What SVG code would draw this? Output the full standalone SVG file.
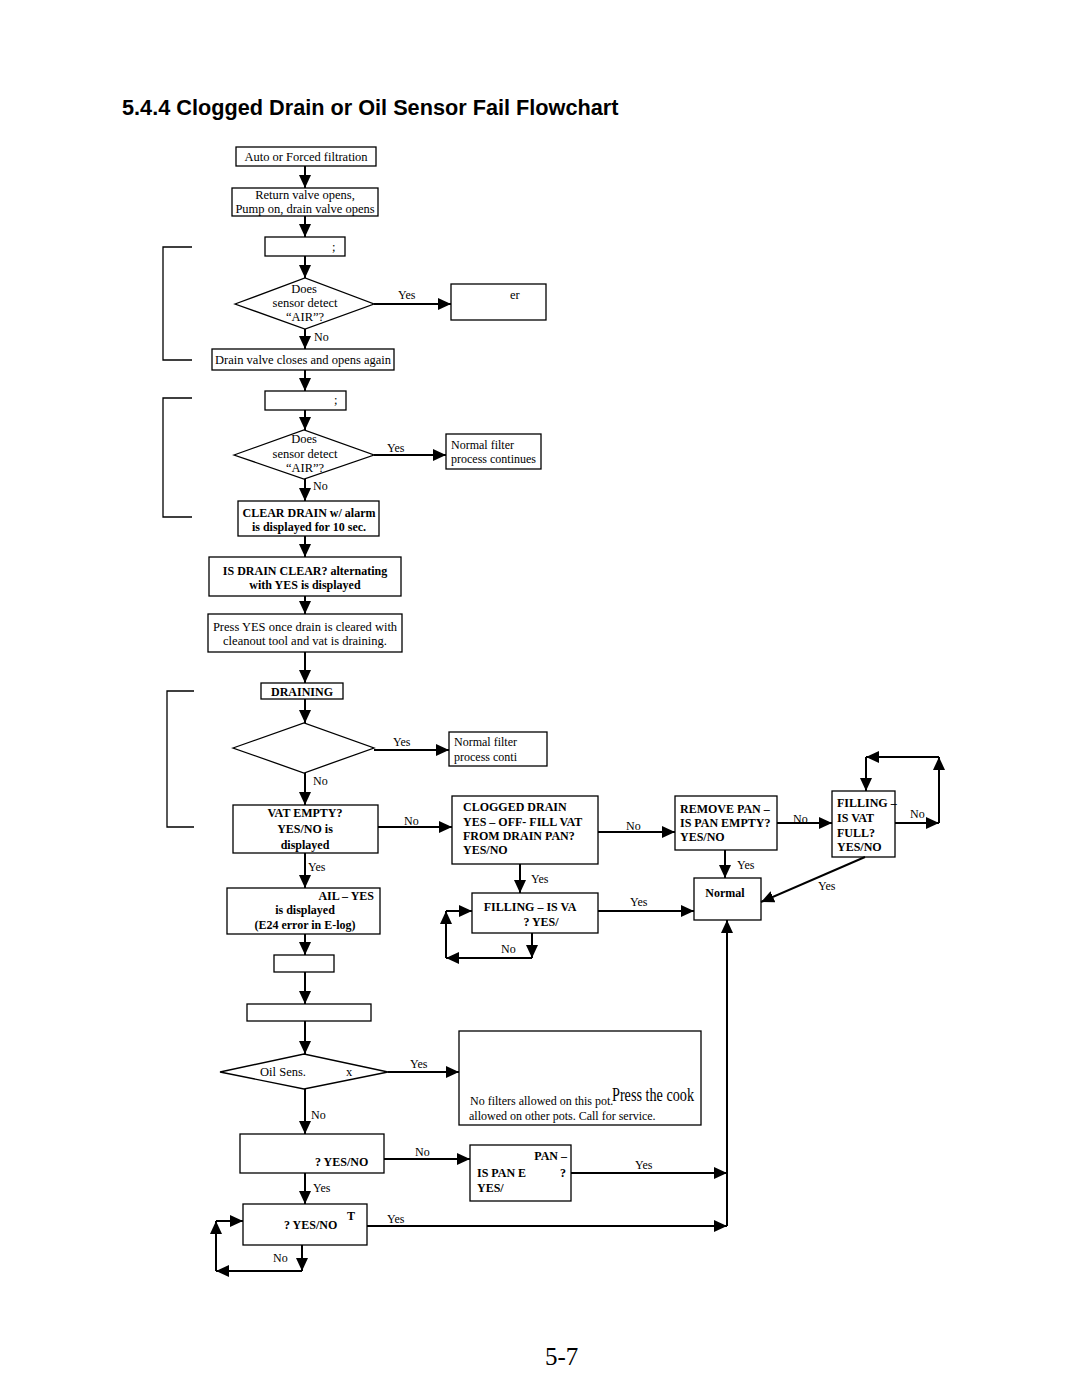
<svg xmlns="http://www.w3.org/2000/svg" width="1080" height="1397" viewBox="0 0 1080 1397">
<style>
.box{fill:#fff;stroke:#000;stroke-width:1.3}
.c{fill:none;stroke:#000;stroke-width:2}
.br{fill:none;stroke:#000;stroke-width:1.3}
text{font-family:"Liberation Serif","Times New Roman",serif;fill:#000}
.t{font-size:12.5px}
.tm{text-anchor:middle}
.b{font-size:12px;font-weight:bold}
.l{font-size:12px}
.title{font-family:"Liberation Sans",Arial,sans-serif;font-size:21.7px;font-weight:bold}
</style>
<defs>
<marker id="ah" viewBox="0 0 13 12" refX="13" refY="6" markerWidth="13" markerHeight="12" markerUnits="userSpaceOnUse" orient="auto"><path d="M0,0 L13,6 L0,12 z" fill="#000"/></marker>
</defs>
<rect width="1080" height="1397" fill="#fff"/>
<text class="title" x="122" y="115">5.4.4 Clogged Drain or Oil Sensor Fail Flowchart</text>

<g id="brackets">
<path class="br" d="M192,247 H163 V360 H192"/>
<path class="br" d="M192,398 H163 V517 H192"/>
<path class="br" d="M194,691 H167 V827 H194"/>
</g>

<g id="n1"><rect class="box" x="236" y="147" width="140" height="19"/><text class="t tm" x="306" y="161">Auto or Forced filtration</text></g>
<g id="n2"><rect class="box" x="232" y="188" width="146" height="28"/><text class="t tm" x="305" y="199">Return valve opens,</text><text class="t tm" x="305" y="213">Pump on, drain valve opens</text></g>
<g id="n3"><rect class="box" x="265" y="237" width="80" height="19"/><text class="t" x="332" y="251">;</text></g>
<g id="n4"><polygon class="box" points="235,304 305,278 374,304 305,329"/><text class="t tm" x="304" y="293">Does</text><text class="t tm" x="305" y="307">sensor detect</text><text class="t tm" x="305" y="321">“AIR”?</text></g>
<g id="n5"><rect class="box" x="451" y="284" width="95" height="36"/><text class="t" x="510" y="299">er</text></g>
<g id="n6"><rect class="box" x="212" y="349" width="182" height="21"/><text class="t tm" x="303" y="364">Drain valve closes and opens again</text></g>
<g id="n7"><rect class="box" x="265" y="391" width="81" height="19"/><text class="t" x="334" y="404">;</text></g>
<g id="n8"><polygon class="box" points="234,455 304,430 374,455 304,479"/><text class="t tm" x="304" y="443">Does</text><text class="t tm" x="305" y="458">sensor detect</text><text class="t tm" x="305" y="472">“AIR”?</text></g>
<g id="n9"><rect class="box" x="446" y="434" width="95" height="35"/><text class="l" x="451" y="449">Normal filter</text><text class="l" x="451" y="463">process continues</text></g>
<g id="n10"><rect class="box" x="238" y="501" width="141" height="35"/><text class="b tm" x="309" y="517">CLEAR DRAIN w/ alarm</text><text class="b tm" x="309" y="531">is displayed for 10 sec.</text></g>
<g id="n11"><rect class="box" x="209" y="557" width="192" height="39"/><text class="b tm" x="305" y="575">IS DRAIN CLEAR? alternating</text><text class="b tm" x="305" y="589">with YES is displayed</text></g>
<g id="n12"><rect class="box" x="208" y="614" width="194" height="38"/><text class="t tm" x="305" y="631">Press YES once drain is cleared with</text><text class="t tm" x="305" y="645">cleanout tool and vat is draining.</text></g>
<g id="n13"><rect class="box" x="261" y="683" width="82" height="16"/><text class="b tm" x="302" y="696">DRAINING</text></g>
<g id="n14"><polygon class="box" points="233,748 304,723 374,748 304,773"/></g>
<g id="n15"><rect class="box" x="449" y="732" width="98" height="34"/><text class="l" x="454" y="746">Normal filter</text><text class="l" x="454" y="761">process conti</text></g>
<g id="n16"><rect class="box" x="233" y="805" width="145" height="48"/><text class="b tm" x="305" y="817">VAT EMPTY?</text><text class="b tm" x="305" y="833">YES/NO is</text><text class="b tm" x="305" y="849">displayed</text></g>
<g id="n17"><rect class="box" x="227" y="888" width="153" height="46"/><text class="b" x="374" y="900" text-anchor="end">AIL – YES</text><text class="b tm" x="305" y="914">is displayed</text><text class="b tm" x="305" y="929">(E24 error in E-log)</text></g>
<g id="n18"><rect class="box" x="452" y="796" width="146" height="68"/><text class="b" x="463" y="811">CLOGGED DRAIN</text><text class="b" x="463" y="826">YES – OFF- FILL VAT</text><text class="b" x="463" y="840">FROM DRAIN PAN?</text><text class="b" x="463" y="854">YES/NO</text></g>
<g id="n19"><rect class="box" x="675" y="796" width="102" height="54"/><text class="b" x="680" y="813">REMOVE PAN –</text><text class="b" x="680" y="827">IS PAN EMPTY?</text><text class="b" x="680" y="841">YES/NO</text></g>
<g id="n20"><rect class="box" x="832" y="791" width="63" height="66"/><text class="b" x="837" y="807" font-size="11.5">FILLING –</text><text class="b" x="837" y="822">IS VAT</text><text class="b" x="837" y="837">FULL?</text><text class="b" x="837" y="851">YES/NO</text></g>
<g id="n21"><rect class="box" x="694" y="878" width="67" height="42"/><text class="b tm" x="725" y="897">Normal</text></g>
<g id="n22"><rect class="box" x="472" y="893" width="126" height="40"/><text class="b tm" x="530" y="911">FILLING – IS VA</text><text class="b tm" x="541" y="926">? YES/</text></g>
<g id="n23"><rect class="box" x="274" y="955" width="60" height="17"/></g>
<g id="n24"><rect class="box" x="247" y="1004" width="124" height="17"/></g>
<g id="n25"><polygon class="box" points="220,1072 304,1054 388,1072 304,1089"/><text class="t tm" x="283" y="1076">Oil Sens.</text><text class="t" x="346" y="1076">x</text></g>
<g id="n26"><rect class="box" x="459" y="1031" width="242" height="94"/><text x="612" y="1101" font-size="19" font-family="Liberation Sans,Arial,sans-serif" textLength="82" lengthAdjust="spacingAndGlyphs">Press the cook</text><text class="l" x="470" y="1105">No filters allowed on this pot.</text><text class="l" x="469" y="1120">allowed on other pots. Call for service.</text></g>
<g id="n27"><rect class="box" x="240" y="1134" width="144" height="39"/><text class="b" x="315" y="1166">? YES/NO</text></g>
<g id="n28"><rect class="box" x="470" y="1145" width="101" height="56"/><text class="b" x="567" y="1160" text-anchor="end">PAN –</text><text class="b" x="477" y="1177">IS PAN E</text><text class="b" x="560" y="1177">?</text><text class="b" x="477" y="1192">YES/</text></g>
<g id="n29"><rect class="box" x="243" y="1204" width="124" height="41"/><text class="b" x="347" y="1220">T</text><text class="b" x="284" y="1229">? YES/NO</text></g>

<g id="connectors">
<path class="c" marker-end="url(#ah)" d="M305,166 V188"/>
<path class="c" marker-end="url(#ah)" d="M305,216 V237"/>
<path class="c" marker-end="url(#ah)" d="M305,256 V278"/>
<path class="c" marker-end="url(#ah)" d="M374,304 H451"/>
<path class="c" marker-end="url(#ah)" d="M305,329 V349"/>
<path class="c" marker-end="url(#ah)" d="M305,370 V391"/>
<path class="c" marker-end="url(#ah)" d="M305,410 V430"/>
<path class="c" marker-end="url(#ah)" d="M374,455 H446"/>
<path class="c" marker-end="url(#ah)" d="M305,479 V501"/>
<path class="c" marker-end="url(#ah)" d="M305,536 V557"/>
<path class="c" marker-end="url(#ah)" d="M305,596 V614"/>
<path class="c" marker-end="url(#ah)" d="M305,652 V683"/>
<path class="c" marker-end="url(#ah)" d="M305,699 V723"/>
<path class="c" marker-end="url(#ah)" d="M374,750 H449"/>
<path class="c" marker-end="url(#ah)" d="M305,773 V805"/>
<path class="c" marker-end="url(#ah)" d="M378,827 H452"/>
<path class="c" marker-end="url(#ah)" d="M305,853 V888"/>
<path class="c" marker-end="url(#ah)" d="M598,832 H675"/>
<path class="c" marker-end="url(#ah)" d="M777,823 H832"/>
<path class="c" marker-end="url(#ah)" d="M895,823 H939"/>
<path class="c" marker-end="url(#ah)" d="M939,823 V757"/>
<path class="c" marker-end="url(#ah)" d="M939,757 H866"/>
<path class="c" marker-end="url(#ah)" d="M866,757 V791"/>
<path class="c" marker-end="url(#ah)" d="M725,850 V878"/>
<path class="c" marker-end="url(#ah)" d="M865,857 L761,902"/>
<path class="c" marker-end="url(#ah)" d="M520,864 V893"/>
<path class="c" marker-end="url(#ah)" d="M598,911 H694"/>
<path class="c" marker-end="url(#ah)" d="M532,933 V958"/>
<path class="c" marker-end="url(#ah)" d="M532,958 H446"/>
<path class="c" marker-end="url(#ah)" d="M446,958 V911"/>
<path class="c" marker-end="url(#ah)" d="M446,911 H472"/>
<path class="c" marker-end="url(#ah)" d="M305,934 V955"/>
<path class="c" marker-end="url(#ah)" d="M305,972 V1004"/>
<path class="c" marker-end="url(#ah)" d="M305,1021 V1054"/>
<path class="c" marker-end="url(#ah)" d="M388,1072 H459"/>
<path class="c" marker-end="url(#ah)" d="M305,1089 V1134"/>
<path class="c" marker-end="url(#ah)" d="M384,1159 H470"/>
<path class="c" marker-end="url(#ah)" d="M305,1173 V1204"/>
<path class="c" marker-end="url(#ah)" d="M571,1173 H727"/>
<path class="c" marker-end="url(#ah)" d="M367,1226 H727"/>
<path class="c" marker-end="url(#ah)" d="M727,1226 V920"/>
<path class="c" marker-end="url(#ah)" d="M302,1245 V1271"/>
<path class="c" marker-end="url(#ah)" d="M302,1271 H216"/>
<path class="c" marker-end="url(#ah)" d="M216,1271 V1221"/>
<path class="c" marker-end="url(#ah)" d="M216,1221 H243"/>
<text class="l" x="398" y="299">Yes</text>
<text class="l" x="314" y="341">No</text>
<text class="l" x="387" y="452">Yes</text>
<text class="l" x="313" y="490">No</text>
<text class="l" x="393" y="746">Yes</text>
<text class="l" x="313" y="785">No</text>
<text class="l" x="404" y="825">No</text>
<text class="l" x="308" y="871">Yes</text>
<text class="l" x="531" y="883">Yes</text>
<text class="l" x="626" y="830">No</text>
<text class="l" x="793" y="823">No</text>
<text class="l" x="910" y="818">No</text>
<text class="l" x="737" y="869">Yes</text>
<text class="l" x="818" y="890">Yes</text>
<text class="l" x="630" y="906">Yes</text>
<text class="l" x="501" y="953">No</text>
<text class="l" x="410" y="1068">Yes</text>
<text class="l" x="311" y="1119">No</text>
<text class="l" x="415" y="1156">No</text>
<text class="l" x="635" y="1169">Yes</text>
<text class="l" x="313" y="1192">Yes</text>
<text class="l" x="387" y="1223">Yes</text>
<text class="l" x="273" y="1262">No</text>
</g>

<text x="545" y="1365" font-size="25" font-family="Liberation Serif,serif">5-7</text>
</svg>
